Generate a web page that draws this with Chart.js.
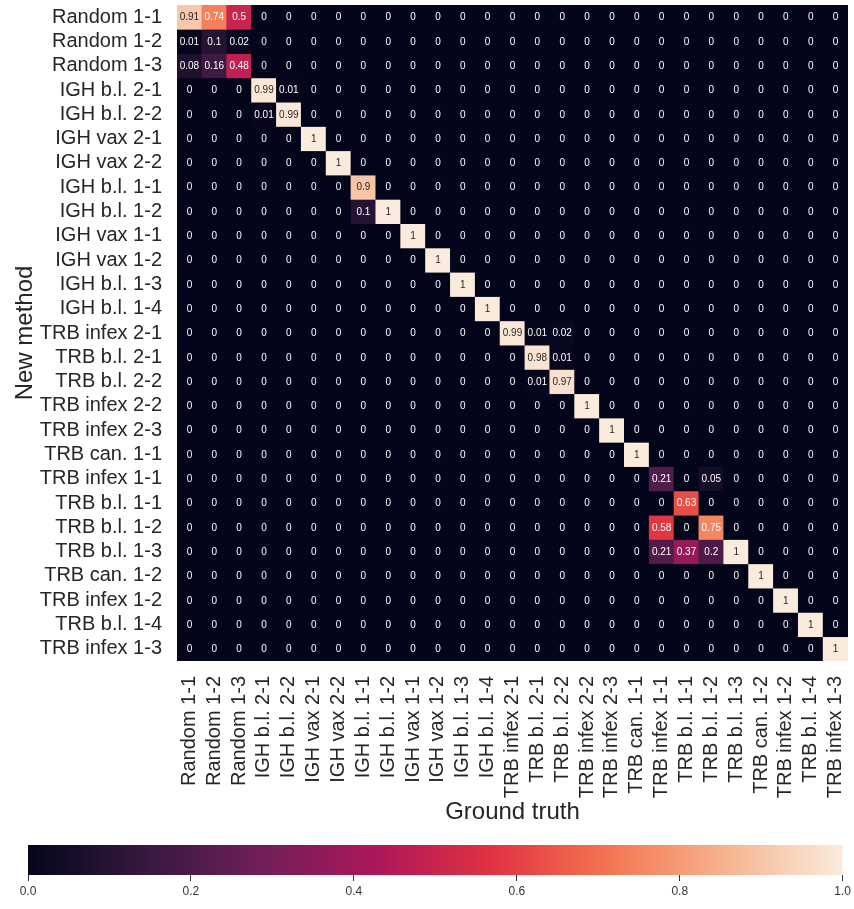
<!DOCTYPE html>
<html>
<head>
<meta charset="utf-8">
<script src="https://cdn.jsdelivr.net/npm/chart.js@4.4.1/dist/chart.umd.min.js"></script>
<style>
  body { margin: 0; background: #fff; }
  #wrap { position: relative; width: 854px; height: 909px; }
  #heat { position: absolute; left: 0; top: 0; }
  #cbar { position: absolute; left: 0; top: 840px; }
</style>
</head>
<body>
<div id="wrap">
  <canvas id="heat" width="854" height="840"></canvas>
  <canvas id="cbar" width="854" height="69"></canvas>
</div>
<script>
// row / column names (same order on both axes)
const categories = [
  'Random 1-1', 'Random 1-2', 'Random 1-3',
  'IGH b.l. 2-1', 'IGH b.l. 2-2', 'IGH vax 2-1', 'IGH vax 2-2',
  'IGH b.l. 1-1', 'IGH b.l. 1-2', 'IGH vax 1-1', 'IGH vax 1-2',
  'IGH b.l. 1-3', 'IGH b.l. 1-4',
  'TRB infex 2-1', 'TRB b.l. 2-1', 'TRB b.l. 2-2', 'TRB infex 2-2',
  'TRB infex 2-3', 'TRB can. 1-1', 'TRB infex 1-1', 'TRB b.l. 1-1',
  'TRB b.l. 1-2', 'TRB b.l. 1-3', 'TRB can. 1-2', 'TRB infex 1-2',
  'TRB b.l. 1-4', 'TRB infex 1-3'
];

// one row of the matrix per "New method" entry
const values = [
  [0.91,0.74,0.5,0,0,0,0,0,0,0,0,0,0,0,0,0,0,0,0,0,0,0,0,0,0,0,0],
  [0.01,0.1,0.02,0,0,0,0,0,0,0,0,0,0,0,0,0,0,0,0,0,0,0,0,0,0,0,0],
  [0.08,0.16,0.48,0,0,0,0,0,0,0,0,0,0,0,0,0,0,0,0,0,0,0,0,0,0,0,0],
  [0,0,0,0.99,0.01,0,0,0,0,0,0,0,0,0,0,0,0,0,0,0,0,0,0,0,0,0,0],
  [0,0,0,0.01,0.99,0,0,0,0,0,0,0,0,0,0,0,0,0,0,0,0,0,0,0,0,0,0],
  [0,0,0,0,0,1,0,0,0,0,0,0,0,0,0,0,0,0,0,0,0,0,0,0,0,0,0],
  [0,0,0,0,0,0,1,0,0,0,0,0,0,0,0,0,0,0,0,0,0,0,0,0,0,0,0],
  [0,0,0,0,0,0,0,0.9,0,0,0,0,0,0,0,0,0,0,0,0,0,0,0,0,0,0,0],
  [0,0,0,0,0,0,0,0.1,1,0,0,0,0,0,0,0,0,0,0,0,0,0,0,0,0,0,0],
  [0,0,0,0,0,0,0,0,0,1,0,0,0,0,0,0,0,0,0,0,0,0,0,0,0,0,0],
  [0,0,0,0,0,0,0,0,0,0,1,0,0,0,0,0,0,0,0,0,0,0,0,0,0,0,0],
  [0,0,0,0,0,0,0,0,0,0,0,1,0,0,0,0,0,0,0,0,0,0,0,0,0,0,0],
  [0,0,0,0,0,0,0,0,0,0,0,0,1,0,0,0,0,0,0,0,0,0,0,0,0,0,0],
  [0,0,0,0,0,0,0,0,0,0,0,0,0,0.99,0.01,0.02,0,0,0,0,0,0,0,0,0,0,0],
  [0,0,0,0,0,0,0,0,0,0,0,0,0,0,0.98,0.01,0,0,0,0,0,0,0,0,0,0,0],
  [0,0,0,0,0,0,0,0,0,0,0,0,0,0,0.01,0.97,0,0,0,0,0,0,0,0,0,0,0],
  [0,0,0,0,0,0,0,0,0,0,0,0,0,0,0,0,1,0,0,0,0,0,0,0,0,0,0],
  [0,0,0,0,0,0,0,0,0,0,0,0,0,0,0,0,0,1,0,0,0,0,0,0,0,0,0],
  [0,0,0,0,0,0,0,0,0,0,0,0,0,0,0,0,0,0,1,0,0,0,0,0,0,0,0],
  [0,0,0,0,0,0,0,0,0,0,0,0,0,0,0,0,0,0,0,0.21,0,0.05,0,0,0,0,0],
  [0,0,0,0,0,0,0,0,0,0,0,0,0,0,0,0,0,0,0,0,0.63,0,0,0,0,0,0],
  [0,0,0,0,0,0,0,0,0,0,0,0,0,0,0,0,0,0,0,0.58,0,0.75,0,0,0,0,0],
  [0,0,0,0,0,0,0,0,0,0,0,0,0,0,0,0,0,0,0,0.21,0.37,0.2,1,0,0,0,0],
  [0,0,0,0,0,0,0,0,0,0,0,0,0,0,0,0,0,0,0,0,0,0,0,1,0,0,0],
  [0,0,0,0,0,0,0,0,0,0,0,0,0,0,0,0,0,0,0,0,0,0,0,0,1,0,0],
  [0,0,0,0,0,0,0,0,0,0,0,0,0,0,0,0,0,0,0,0,0,0,0,0,0,1,0],
  [0,0,0,0,0,0,0,0,0,0,0,0,0,0,0,0,0,0,0,0,0,0,0,0,0,0,1]
];

const colorbarTicks = [0, 0.2, 0.4, 0.6, 0.8, 1.0];

// rocket colormap, sampled
const rocketStops = [
  [0, [3, 5, 26]],
  [1 / 7, [53, 25, 62]],
  [2 / 7, [112, 31, 87]],
  [3 / 7, [173, 23, 89]],
  [4 / 7, [225, 51, 66]],
  [5 / 7, [243, 118, 81]],
  [6 / 7, [246, 180, 143]],
  [1, [250, 235, 221]]
];

function rocketRGB(v) {
  v = Math.max(0, Math.min(1, v));
  for (let i = 1; i < rocketStops.length; i++) {
    const [p1, c1] = rocketStops[i];
    const [p0, c0] = rocketStops[i - 1];
    if (v <= p1) {
      const t = (v - p0) / (p1 - p0);
      return c0.map((c, k) => Math.round(c + (c1[k] - c) * t));
    }
  }
  return rocketStops[rocketStops.length - 1][1];
}
const rocket = (v) => `rgb(${rocketRGB(v).join(',')})`;

// same rule as seaborn for picking the annotation colour
function isLight(v) {
  const lin = rocketRGB(v).map((c) => {
    c = c / 255;
    return c <= 0.03928 ? c / 12.92 : Math.pow((c + 0.055) / 1.055, 2.4);
  });
  return 0.2126 * lin[0] + 0.7152 * lin[1] + 0.0722 * lin[2] > 0.408;
}

const FONT = "'Liberation Sans', Arial, sans-serif";
const TEXT = '#262626';

// dark backdrop so the seams between cells don't show
const backdrop = {
  id: 'backdrop',
  beforeDatasetsDraw(chart) {
    const { ctx, chartArea: a } = chart;
    ctx.save();
    ctx.fillStyle = rocket(0);
    ctx.fillRect(a.left, a.top, a.right - a.left, a.bottom - a.top);
    ctx.restore();
  }
};

const annotate = {
  id: 'annotate',
  afterDatasetsDraw(chart) {
    const ctx = chart.ctx;
    ctx.save();
    ctx.font = `10px ${FONT}`;
    ctx.textAlign = 'center';
    ctx.textBaseline = 'middle';
    chart.data.datasets.forEach((ds, r) => {
      chart.getDatasetMeta(r).data.forEach((bar, c) => {
        const v = values[r][c];
        ctx.fillStyle = isLight(v) ? TEXT : '#ffffff';
        ctx.fillText(String(v), bar.x, (bar.y + bar.base) / 2 + 0.5);
      });
    });
    ctx.restore();
  }
};

new Chart(document.getElementById('heat'), {
  type: 'bar',
  data: {
    labels: categories,
    datasets: categories.map((name, r) => ({
      label: name,
      data: categories.map(() => 1),
      backgroundColor: values[r].map(rocket),
      borderWidth: 0,
      barPercentage: 1,
      categoryPercentage: 1
    }))
  },
  options: {
    responsive: false,
    animation: false,
    layout: { padding: { left: 0, right: 6, top: 5, bottom: 0 } },
    plugins: { legend: { display: false }, tooltip: { enabled: false } },
    scales: {
      x: {
        stacked: true,
        grid: { display: false },
        border: { display: false },
        ticks: {
          autoSkip: false, minRotation: 90, maxRotation: 90, padding: 7,
          color: TEXT, font: { family: FONT, size: 20 }
        },
        title: {
          display: true, text: 'Ground truth', color: TEXT,
          font: { family: FONT, size: 24 }, padding: { top: 0, bottom: 13 }
        },
        afterFit: (s) => { s.height = 179; s.paddingLeft = 0; s.paddingRight = 0; }
      },
      y: {
        stacked: true,
        reverse: true,
        min: 0,
        max: categories.length,
        grid: { display: false },
        border: { display: false },
        afterBuildTicks: (s) => { s.ticks = categories.map((_, i) => ({ value: i + 0.5 })); },
        ticks: {
          autoSkip: false, padding: 7, color: TEXT,
          font: { family: FONT, size: 20 },
          callback: (v, i) => categories[i]
        },
        title: {
          display: true, text: 'New method', color: TEXT,
          font: { family: FONT, size: 24 }, padding: { top: 11, bottom: 0 }
        },
        afterFit: (s) => { s.width = 177; s.paddingTop = 0; s.paddingBottom = 0; }
      }
    }
  },
  plugins: [backdrop, annotate]
});

// colour bar
const gradientFill = {
  id: 'gradientFill',
  beforeDatasetsDraw(chart) {
    const { ctx, chartArea: a } = chart;
    const g = ctx.createLinearGradient(a.left, 0, a.right, 0);
    for (let i = 0; i <= 40; i++) g.addColorStop(i / 40, rocket(i / 40));
    ctx.save();
    ctx.fillStyle = g;
    ctx.fillRect(a.left, a.top, a.right - a.left, a.bottom - a.top);
    ctx.restore();
  }
};

new Chart(document.getElementById('cbar'), {
  type: 'scatter',
  data: { datasets: [{ data: [] }] },
  options: {
    responsive: false,
    animation: false,
    layout: { padding: { left: 28, right: 11, top: 5, bottom: 0 } },
    plugins: { legend: { display: false }, tooltip: { enabled: false } },
    scales: {
      x: {
        min: 0, max: 1,
        afterBuildTicks: (s) => { s.ticks = colorbarTicks.map((v) => ({ value: v })); },
        grid: { drawOnChartArea: false, tickLength: 6, color: '#333', tickWidth: 1 },
        border: { display: false },
        ticks: {
          padding: 3, color: '#333',
          font: { family: "'Liberation Sans Narrow', " + FONT, size: 12 },
          callback: (v) => v.toFixed(1)
        },
        afterFit: (s) => { s.height = 34; }
      },
      y: { display: false, min: 0, max: 1 }
    }
  },
  plugins: [gradientFill]
});
</script>
</body>
</html>
